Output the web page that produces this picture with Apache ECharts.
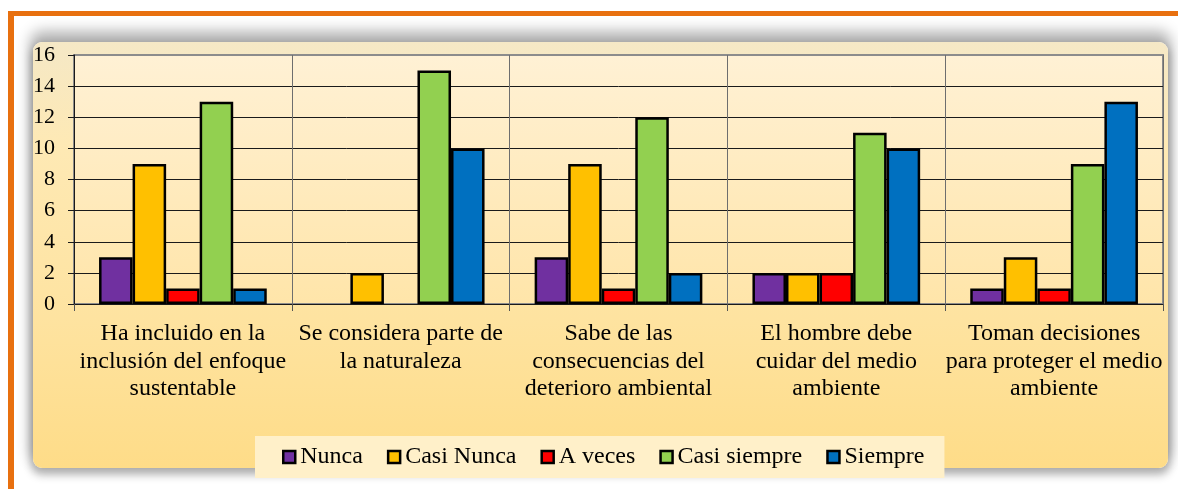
<!DOCTYPE html>
<html>
<head>
<meta charset="utf-8">
<script src="https://cdn.jsdelivr.net/npm/echarts@6/dist/echarts.min.js"></script>
<style>
  html, body { margin: 0; padding: 0; background: #ffffff; }
  #frame { position: relative; width: 1178px; height: 489px; overflow: hidden; background: #ffffff; }
  .rule-top { position: absolute; left: 8px; top: 11px; width: 1170px; height: 5px; background: #E8700F; }
  .rule-left { position: absolute; left: 8px; top: 11px; width: 6px; height: 478px; background: #E8700F; }
  .panel {
    position: absolute; left: 33px; top: 42px; width: 1135px; height: 426px;
    border-radius: 9px;
    background: linear-gradient(to bottom, #F5E8C6 0%, #FEE9B4 25%, #FEE3A0 65%, #FEDC88 100%);
    box-shadow: 0 -8px 14px 3px rgba(0,0,0,0.30), 0 5px 9px 2px rgba(0,0,0,0.28);
  }
  #chart { position: absolute; left: 0; top: 0; width: 1178px; height: 489px; }
</style>
</head>
<body>
<div id="frame">
  <div class="rule-top"></div>
  <div class="rule-left"></div>
  <div class="panel"></div>
  <div id="chart"></div>
</div>
<script>
// Survey answers per statement
const categories = [
  'Ha incluido en la\ninclusión del enfoque\nsustentable',
  'Se considera parte de\nla naturaleza',
  'Sabe de las\nconsecuencias del\ndeterioro ambiental',
  'El hombre debe\ncuidar del medio\nambiente',
  'Toman decisiones\npara proteger el medio\nambiente'
];
const seriesNames = ['Nunca', 'Casi Nunca', 'A veces', 'Casi siempre', 'Siempre'];
const nunca       = [3, 0, 3, 2, 1];
const casiNunca   = [9, 2, 9, 2, 3];
const aVeces      = [1, 0, 1, 2, 1];
const casiSiempre = [13, 15, 12, 11, 9];
const siempre     = [1, 10, 2, 10, 13];
const yMin = 0, yMax = 16, yStep = 2;

const seriesValues = [nunca, casiNunca, aVeces, casiSiempre, siempre];
const seriesColors = ['#7030A0', '#FFC000', '#FF0000', '#92D050', '#0070C0'];
const FONT = '"Liberation Serif", "Times New Roman", serif';

const chart = echarts.init(document.getElementById('chart'), null, { renderer: 'canvas' });

// horizontal grid lines: dark inside, grey along the top edge
const hLineColors = [];
for (let v = yMin; v <= yMax; v += yStep) hLineColors.push(v === yMax ? '#8C8C8C' : '#1A1A1A');

// empty answers get no outline, so nothing shows on the baseline
const toBarData = values => values.map(v => (v === 0 ? { value: v, itemStyle: { borderWidth: 0 } } : v));

chart.setOption({
  backgroundColor: 'transparent',
  animation: false,
  grid: {
    left: 74, top: 55, width: 1089, height: 249,
    show: true,
    borderColor: '#8C8C8C', borderWidth: 2,
    backgroundColor: new echarts.graphic.LinearGradient(0, 0, 0, 1, [
      { offset: 0, color: '#FFF1D5' },
      { offset: 1, color: '#FFE5A9' }
    ])
  },
  legend: {
    left: 255, top: 436,
    padding: [9, 20, 9, 27],
    backgroundColor: '#FFF0C9',
    itemWidth: 12, itemHeight: 12, itemGap: 24,
    icon: 'rect',
    itemStyle: { borderColor: '#000', borderWidth: 2.5 },
    textStyle: { fontFamily: FONT, fontSize: 24, color: '#000' },
    data: seriesNames
  },
  xAxis: {
    type: 'category',
    data: categories,
    boundaryGap: true,
    axisLine: { show: true, lineStyle: { color: '#1A1A1A', width: 1 } },
    axisTick: { show: true, length: 7, alignWithLabel: false, lineStyle: { color: '#555' } },
    splitLine: { show: true, interval: 0, lineStyle: { color: '#6E6E6E', width: 1 } },
    axisLabel: {
      interval: 0, margin: 16,
      fontFamily: FONT, fontSize: 24, lineHeight: 27.5, color: '#000', align: 'center'
    }
  },
  yAxis: {
    type: 'value',
    min: yMin, max: yMax, interval: yStep,
    axisLine: { show: true, lineStyle: { color: '#1A1A1A', width: 1 } },
    axisTick: { show: true, length: 6, lineStyle: { color: '#1A1A1A' } },
    splitLine: { show: true, lineStyle: { color: hLineColors, width: 1 } },
    axisLabel: { margin: 19, fontFamily: FONT, fontSize: 22, color: '#000' }
  },
  series: seriesNames.map((name, i) => ({
    name: name,
    type: 'bar',
    data: toBarData(seriesValues[i]),
    barGap: '0%',
    barCategoryGap: '23%',
    itemStyle: { color: seriesColors[i], borderColor: '#000', borderWidth: 2.5 }
  }))
});
</script>
</body>
</html>
